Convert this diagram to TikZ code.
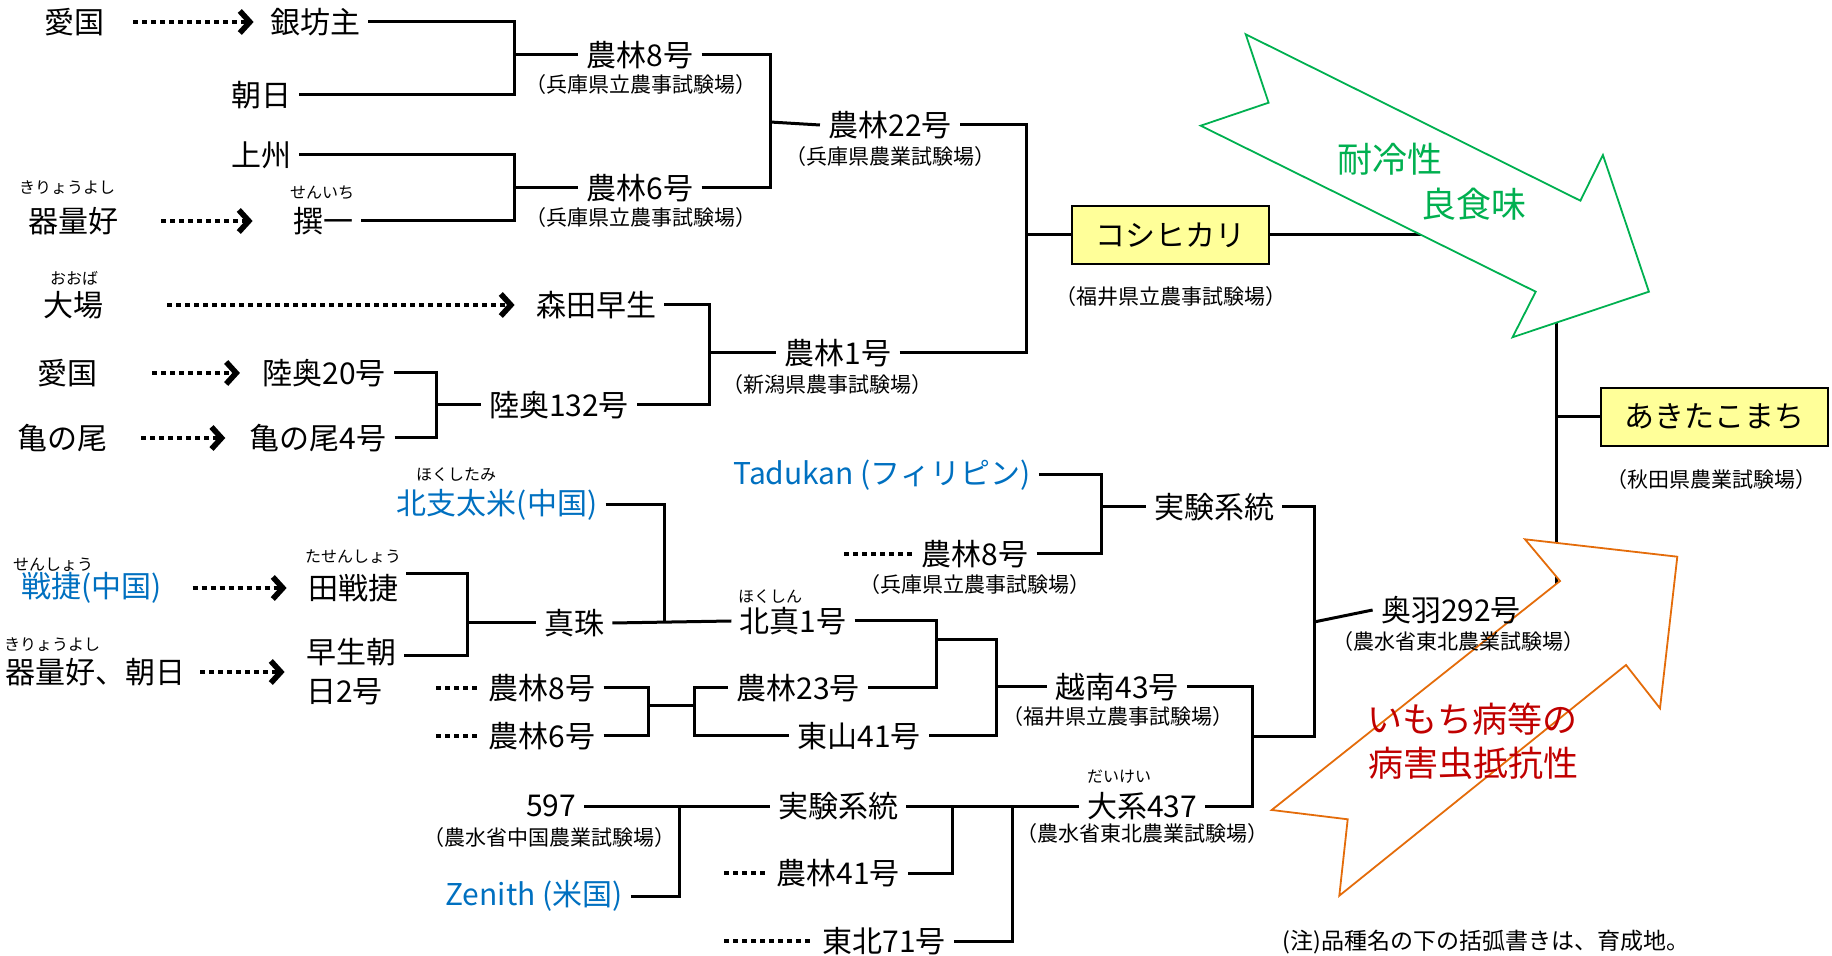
\documentclass[tikz,border=0pt]{standalone}
\usepackage{fontspec}
\setmainfont{Noto Sans CJK JP}
\usetikzlibrary{arrows.meta}
\definecolor{rblue}{HTML}{0070C0}
\definecolor{rgreen}{HTML}{00B050}
\definecolor{rred}{HTML}{C00000}
\definecolor{rorange}{HTML}{E46C0A}
\definecolor{ryellow}{HTML}{FFFF99}
\pgfdeclarelayer{bg}
\pgfdeclarelayer{mid}
\pgfsetlayers{bg,mid,main}
\begin{document}
\begin{tikzpicture}[x=0.5pt,y=-0.5pt,
	lbl/.style={font=\fontsize{15}{19.5}\selectfont, inner sep=4pt},
	blu/.style={lbl, text=rblue},
	sub/.style={font=\fontsize{10.5}{12}\selectfont, inner sep=1pt},
	ruby/.style={font=\fontsize{8}{9}\selectfont, inner sep=0pt},
	kbox/.style={lbl, draw, fill=ryellow, line width=1pt, minimum height=29pt},
	link/.style={line width=1.5pt},
	dotline/.style={line width=2.2pt, dash pattern=on 2.5pt off 2pt},
	dotarrow/.style={dotline, -{Straight Barb[length=5pt,width=11pt,line width=2.8pt]}},
	garrow/.style={draw=rgreen, fill=white, line width=0.9pt},
	oarrow/.style={draw=rorange, fill=white, line width=0.9pt}]
			\useasboundingbox (0,0) rectangle (1832,956);
			\node[lbl] (aikokuA) at (74,22) {愛国};
			\node[lbl] (ginbo) at (315,22) {銀坊主};
			\node[lbl] (asahi) at (261,95) {朝日};
			\node[lbl] (joshu) at (261,155) {上州};
			\node[ruby] (kiryoAr) at (67,188) {きりょうよし};
			\node[lbl] (kiryoA) at (73,221) {器量好};
			\node[ruby] (senichir) at (322,193) {せんいち};
			\node[lbl] (senichi) at (323,221) {撰一};
			\node[lbl] (norin8a) at (640,55) {農林8号};
			\node[sub] (norin8as) at (641,85) {（兵庫県立農事試験場）};
			\node[lbl] (norin6a) at (640,188) {農林6号};
			\node[sub] (norin6as) at (641,218) {（兵庫県立農事試験場）};
			\node[lbl] (norin22) at (890,125) {農林22号};
			\node[sub] (norin22s) at (890,157) {（兵庫県農業試験場）};
			\node[kbox, minimum width=98.5pt] (koshi) at (1170,235) {コシヒカリ};
			\node[sub] (koshis) at (1171,297) {（福井県立農事試験場）};
			\node[ruby] (obar) at (74,278) {おおば};
			\node[lbl] (oba) at (73,305) {大場};
			\node[lbl] (morita) at (596,305) {森田早生};
			\node[lbl] (aikokuB) at (67,373) {愛国};
			\node[lbl] (mutsu20) at (324,373) {陸奥20号};
			\node[lbl] (kamenoo) at (63,438) {亀の尾};
			\node[lbl] (kamenoo4) at (318,438) {亀の尾4号};
			\node[lbl] (mutsu132) at (559,405) {陸奥132号};
			\node[lbl] (norin1) at (838,353) {農林1号};
			\node[sub] (norin1s) at (827,385) {（新潟県農事試験場）};
			\node[kbox, minimum width=113.5pt] (akita) at (1714,417) {あきたこまち};
			\node[sub] (akitas) at (1711,480) {（秋田県農業試験場）};
			\node[font=\fontsize{17.5}{20}\selectfont, text=rgreen] (tairei) at (1390,159) {耐冷性};
			\node[font=\fontsize{17.5}{20}\selectfont, text=rgreen] (ryoshoku) at (1474,204) {良食味};
			\node[ruby] (hokushir) at (456,475) {ほくしたみ};
			\node[blu] (hokushi) at (497,505) {北支太米(中国)};
			\node[blu] (tadukan) at (882,475) {Tadukan (フィリピン)};
			\node[lbl] (jikkenA) at (1214,507) {実験系統};
			\node[lbl] (norin8c) at (975,554) {農林8号};
			\node[sub] (norin8cs) at (975,585) {（兵庫県立農事試験場）};
			\node[ruby] (senshor) at (53,565) {せんしょう};
			\node[blu] (sensho) at (92,588) {戦捷(中国)};
			\node[ruby] (tasenshor) at (353,557) {たせんしょう};
			\node[lbl] (tasensho) at (353,588) {田戦捷};
			\node[ruby] (kiryoBr) at (52,645) {きりょうよし};
			\node[lbl] (kiryoB) at (95,672) {器量好、朝日};
			\node[lbl, align=left] (wase) at (351,672) {早生朝\\日2号};
			\node[lbl] (shinju) at (574,623) {真珠};
			\node[ruby] (hokushinr) at (770,597) {ほくしん};
			\node[lbl] (hokushin) at (793,621) {北真1号};
			\node[lbl] (norin8b) at (542,688) {農林8号};
			\node[lbl] (norin6b) at (542,736) {農林6号};
			\node[lbl] (norin23) at (798,688) {農林23号};
			\node[lbl] (higashi41) at (859,736) {東山41号};
			\node[lbl] (etsunan) at (1117,687) {越南43号};
			\node[sub] (etsunans) at (1118,717) {（福井県立農事試験場）};
			\node[lbl] (ou292) at (1451,610) {奥羽292号};
			\node[sub] (ou292s) at (1458,642) {（農水省東北農業試験場）};
			\node[font=\fontsize{17.5}{20}\selectfont, text=rred] (imochi) at (1472,719) {いもち病等の};
			\node[font=\fontsize{17.5}{20}\selectfont, text=rred] (byogai) at (1473,763) {病害虫抵抗性};
			\node[lbl] (n597) at (551,806) {597};
			\node[sub] (n597s) at (549,838) {（農水省中国農業試験場）};
			\node[blu] (zenith) at (534,896) {Zenith (米国)};
			\node[lbl] (jikkenB) at (838,806) {実験系統};
			\node[lbl] (norin41) at (838,873) {農林41号};
			\node[lbl] (tohoku71) at (884,941) {東北71号};
			\node[ruby] (taikeir) at (1119,777) {だいけい};
			\node[lbl] (taikei) at (1142,806) {大系437};
			\node[sub] (taikeis) at (1142,834) {（農水省東北農業試験場）};
			\node[font=\fontsize{11.5}{13}\selectfont] (note) at (1486,942) {(注)品種名の下の括弧書きは、育成地。};
			\coordinate (jA) at (514,55);
			\coordinate (jB) at (514,188);
			\coordinate (jC) at (770,122);
			\coordinate (jD) at (1026,235);
			\coordinate (jE) at (436,405);
			\coordinate (jF) at (709,353);
			\coordinate (jG) at (1556,417);
			\coordinate (jH) at (1101,507);
			\coordinate (jI) at (1314,622);
			\coordinate (jJ) at (467,623);
			\coordinate (jK) at (664,623);
			\coordinate (jL) at (648,706);
			\coordinate (jM) at (694,706);
			\coordinate (jN) at (936,640);
			\coordinate (jO) at (996,687);
			\coordinate (jP) at (679,806);
			\coordinate (jQ) at (952,806);
			\coordinate (jR) at (1012,806);
			\coordinate (jS) at (1252,737);
			\coordinate (dN8b) at (436,688);
			\coordinate (dN6b) at (436,736);
			\coordinate (dN8c) at (844,554);
			\coordinate (dN41) at (724,873);
			\coordinate (dT71) at (724,941);
			\begin{pgfonlayer}{bg}
			\draw[dotarrow, shorten <=10.5pt, shorten >=4pt] (aikokuA) -- (ginbo);
			\draw[dotarrow, shorten <=17.5pt, shorten >=16pt] (kiryoA) -- (senichi);
			\draw[dotarrow, shorten <=28pt, shorten >=6.5pt] (oba) -- (morita);
			\draw[dotarrow, shorten <=23.5pt, shorten >=7pt] (aikokuB) -- (mutsu20);
			\draw[dotarrow, shorten <=12.5pt, shorten >=8pt] (kamenoo) -- (kamenoo4);
			\draw[dotarrow, shorten <=11pt, shorten >=6.5pt] (sensho) -- (tasensho);
			\draw[dotarrow, shorten <=3.5pt, shorten >=6.5pt] (kiryoB) -- (wase);
			\draw[dotline] (dN8b) -- (norin8b.west);
			\draw[dotline] (dN6b) -- (norin6b.west);
			\draw[dotline] (dN8c) -- (norin8c.west);
			\draw[dotline] (dN41) -- (norin41.west);
			\draw[dotline] (dT71) -- (tohoku71.west);
			\draw[link] (ginbo.east) -| (jA);
			\draw[link] (asahi.east) -| (jA);
			\draw[link] (jA) -- (norin8a.west);
			\draw[link] (joshu.east) -| (jB);
			\draw[link] (senichi.east) -| (jB);
			\draw[link] (jB) -- (norin6a.west);
			\draw[link] (norin8a.east) -| (jC);
			\draw[link] (norin6a.east) -| (jC);
			\draw[link] (jC) -- (norin22.west);
			\draw[link] (norin22.east) -| (jD);
			\draw[link] (norin1.east) -| (jD);
			\draw[link] (jD) -- (koshi.west);
			\draw[link] (mutsu20.east) -| (jE);
			\draw[link] (kamenoo4.east) -| (jE);
			\draw[link] (jE) -- (mutsu132.west);
			\draw[link] (morita.east) -| (jF);
			\draw[link] (mutsu132.east) -| (jF);
			\draw[link] (jF) -- (norin1.west);
			\draw[link] (koshi.east) -| (jG);
			\draw[link] (ou292.east) -| (jG);
			\draw[link] (jG) -- (akita.west);
			\draw[link] (tadukan.east) -| (jH);
			\draw[link] (norin8c.east) -| (jH);
			\draw[link] (jH) -- (jikkenA.west);
			\draw[link] (jikkenA.east) -| (jI);
			\draw[link] (jS) -| (jI);
			\draw[link] (jI) -- (ou292.west);
			\draw[link] ([yshift=7pt]tasensho.east) -| (jJ);
			\draw[link] ([yshift=8pt]wase.east) -| (jJ);
			\draw[link] (jJ) -- (shinju.west);
			\draw[link] (shinju.east) -- (hokushin.west);
			\draw[link] (hokushi.east) -| (jK);
			\draw[link] (norin8b.east) -| (jL);
			\draw[link] (norin6b.east) -| (jL);
			\draw[link] (jL) -- (jM);
			\draw[link] (jM) |- (norin23.west);
			\draw[link] (jM) |- (higashi41.west);
			\draw[link] (hokushin.east) -| (jN);
			\draw[link] (norin23.east) -| (jN);
			\draw[link] (jN) -| (jO);
			\draw[link] (higashi41.east) -| (jO);
			\draw[link] (jO) -- (etsunan.west);
			\draw[link] (etsunan.east) -| (jS);
			\draw[link] (taikei.east) -| (jS);
			\draw[link] (n597.east) -- (jikkenB.west);
			\draw[link] (zenith.east) -| (jP);
			\draw[link] (jikkenB.east) -- (taikei.west);
			\draw[link] (norin41.east) -| (jQ);
			\draw[link] (tohoku71.east) -| (jR);
			\end{pgfonlayer}
			\begin{pgfonlayer}{mid}
			\draw[garrow] (1245.7,34.3) -- (1268.6,102.7) -- (1200.7,125.7) -- (1535.7,291.7) -- (1512.5,337.3) -- (1648.9,291.7) -- (1602.9,155) -- (1580.4,200.7) -- cycle;
			\draw[oarrow] (1271.7,810) -- (1347.7,819.3) -- (1339.3,895.7) -- (1626,665) -- (1660,708.3) -- (1677.3,556.7) -- (1525,539.3) -- (1560,581) -- cycle;
			\end{pgfonlayer}
\end{tikzpicture}
\end{document}
